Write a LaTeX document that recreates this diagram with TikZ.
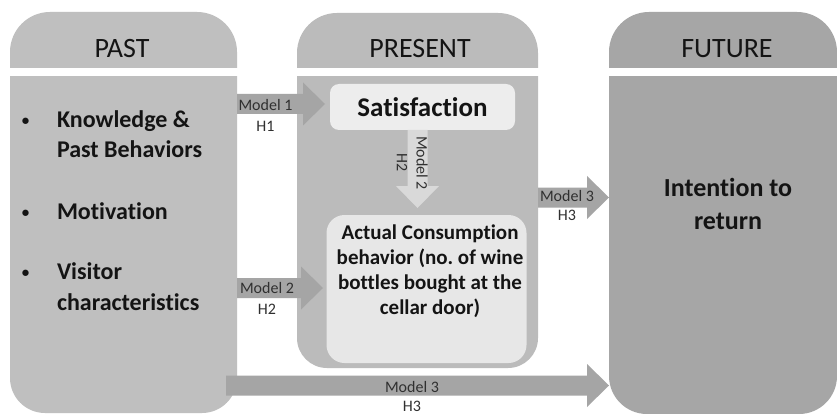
\documentclass[tikz,border=0pt]{standalone}
\usepackage{fontspec}
\setmainfont{Carlito}[Ligatures=NoCommon]
\usetikzlibrary{calc}
\frenchspacing
\definecolor{pastc}{HTML}{BFBFBF}
\definecolor{presc}{HTML}{BBBBBB}
\definecolor{futc}{HTML}{A6A6A6}
\definecolor{arrc}{HTML}{A5A5A5}
\definecolor{varrc}{HTML}{D9D9D9}
\definecolor{satc}{HTML}{EDEDED}
\definecolor{consc}{HTML}{E7E7E7}
\definecolor{txtc}{HTML}{141414}
\definecolor{labc}{HTML}{303030}
\newcommand\blockarr[3]{%
  \coordinate (bas) at (#2);
  \coordinate (bat) at (#3);
  \coordinate (bah) at ($(bat)!22pt!(bas)$);
  \fill[#1] ($(bas)!10pt!90:(bat)$) -- ($(bah)!10pt!90:(bat)$) -- ($(bah)!21.5pt!90:(bat)$) -- (bat) -- ($(bah)!21.5pt!-90:(bat)$) -- ($(bah)!10pt!-90:(bat)$) -- ($(bas)!10pt!-90:(bat)$) -- cycle;}
\begin{document}
\begin{tikzpicture}[x=1pt,y=-1pt,
  every node/.style={inner sep=0pt, outer sep=0pt},
  hdr/.style={font=\fontsize{28}{32}\selectfont, text=txtc, anchor=base},
  itemtxt/.style={font=\bfseries\fontsize{24}{29}\selectfont, text=txtc, anchor=base west},
  bul/.style={font=\bfseries\fontsize{15}{18}\selectfont, text=txtc, anchor=base},
  lab/.style={font=\fontsize{16}{18}\selectfont, text=labc}]
\useasboundingbox (0,0) rectangle (837,414);
\fill[white] (0,0) rectangle (837,414);
% column headers
\begin{scope}
  \clip (0,0) rectangle (837,68);
  \fill[pastc, rounded corners=40pt] (10,12) rectangle (237,140);
  \fill[presc, rounded corners=40pt] (297,13) rectangle (538,140);
  \fill[futc, rounded corners=40pt] (609,12) rectangle (837,140);
\end{scope}
% column bodies
\begin{scope}
  \clip (0,77) rectangle (837,414);
  \fill[pastc, rounded corners=35pt] (10,20) rectangle (237,413);
  \fill[presc, rounded corners=30pt] (297,20) rectangle (538,368);
  \fill[futc, rounded corners=38pt] (609,20) rectangle (837,414);
\end{scope}
% named column areas
\node[minimum width=227pt, minimum height=336pt, anchor=north west] (pastbody) at (10,77) {};
\node[minimum width=241pt, minimum height=291pt, anchor=north west] (presbody) at (297,77) {};
\node[minimum width=228pt, minimum height=337pt, anchor=north west] (futbody) at (609,77) {};
% headers
\node[hdr] (pasthdr) at (122,58) {PAST};
\node[hdr] (preshdr) at (420,58) {PRESENT};
\node[hdr] (futhdr) at (727,58) {FUTURE};
% past items
\node[bul] (b1) at (25.5,125.5) {•};
\node[itemtxt] (k1) at (57,127.5) {Knowledge \&};
\node[itemtxt] (k2) at (57,158) {Past Behaviors};
\node[bul] (b2) at (25.5,217) {•};
\node[itemtxt] (mo) at (57,219) {Motivation};
\node[bul] (b3) at (25.5,277) {•};
\node[itemtxt] (v1) at (57,279) {Visitor};
\node[itemtxt] (v2) at (57,310) {characteristics};
% present boxes
\node[fill=satc, rounded corners=9pt, minimum width=185pt, minimum height=46pt,
      font=\bfseries\fontsize{27}{30}\selectfont, text=txtc] (sat) at (422.5,107) {Satisfaction};
\node[fill=consc, rounded corners=18pt, minimum width=200pt, minimum height=148pt] (cons) at (426.5,289) {};
\node[anchor=north, align=center, font=\bfseries\fontsize{21}{25}\selectfont, text=txtc] (constxt) at (430,225) {Actual Consumption\\behavior (no. of wine\\bottles bought at the\\cellar door)};
% future text
\node[anchor=north, align=center, font=\bfseries\fontsize{26}{33}\selectfont, text=txtc] (intent) at (728,178) {Intention to\\return};
% arrows
\coordinate (a1s) at (237,104);
\coordinate (a1t) at (325,104);
\coordinate (a2s) at (237,288);
\coordinate (a2t) at (323,288);
\coordinate (a3s) at (538,197.5);
\coordinate (a4s) at (226,385.5);
\coordinate (vs) at (417.5,130);
\coordinate (vt) at (417.5,208);
\blockarr{arrc}{a1s}{a1t}
\blockarr{arrc}{a2s}{a2t}
\blockarr{arrc}{a3s}{futbody.west |- a3s}
\blockarr{arrc}{a4s}{futbody.west |- a4s}
\blockarr{varrc}{vs}{vt}
% arrow labels
\node[lab] (l1m) at (265.5,105) {Model 1};
\node[lab] (l1h) at (265.5,126) {H1};
\node[lab] (l2m) at (267,288) {Model 2};
\node[lab] (l2h) at (267,309) {H2};
\node[lab] (l3m) at (567,196) {Model 3};
\node[lab] (l3h) at (567,215) {H3};
\node[lab] (l4m) at (412,387) {Model 3};
\node[lab] (l4h) at (412,406) {H3};
\node[lab, rotate=-90] (lvm) at (422,163) {Model 2};
\node[lab, rotate=-90] (lvh) at (402,163) {H2};
\end{tikzpicture}
\end{document}
